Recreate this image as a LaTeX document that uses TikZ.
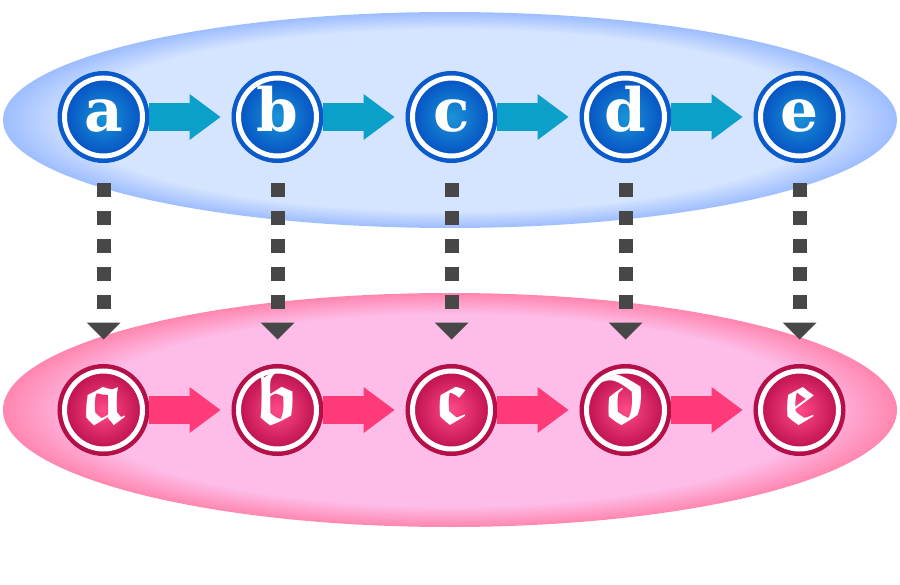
\documentclass[tikz,border=0pt]{standalone}
\usepackage{amsmath}
\usepackage{amssymb}
\usepackage{bm}
\usepackage{graphicx}
\usepackage{fontspec}
\usepackage{xcolor}
\usepackage{tikz}
\usetikzlibrary{arrows.meta}

\newfontfamily\letterfont{DejaVu Serif}
\newcommand{\frk}[1]{\scalebox{1.75}{$\bm{\mathfrak{#1}}$}}

\definecolor{lensblue}{HTML}{D5E4FF}
\definecolor{lensblueedge}{HTML}{9DBDFF}
\definecolor{lenspink}{HTML}{FDBDE8}
\definecolor{lenspinkedge}{HTML}{FF86AF}
\definecolor{topcore}{HTML}{1A94D6}
\definecolor{topedge}{HTML}{0652C4}
\definecolor{topring}{HTML}{0A5ACC}
\definecolor{botcore}{HTML}{FF4A86}
\definecolor{botedge}{HTML}{BE1150}
\definecolor{botring}{HTML}{B50F48}
\definecolor{arrowblue}{HTML}{0AA0CA}
\definecolor{arrowpink}{HTML}{FF3A78}
\definecolor{dashgray}{HTML}{474747}

\pgfdeclareradialshading{bluelens}{\pgfpoint{0bp}{0bp}}{color(0bp)=(lensblue); color(21bp)=(lensblue); color(25bp)=(lensblueedge); color(50bp)=(lensblueedge)}
\pgfdeclareradialshading{pinklens}{\pgfpoint{0bp}{0bp}}{color(0bp)=(lenspink); color(20.5bp)=(lenspink); color(25bp)=(lenspinkedge); color(50bp)=(lenspinkedge)}

\begin{document}
\begin{tikzpicture}[
        state/.style={circle,minimum size=1.56cm,inner sep=0pt,outer sep=0.13cm,
            draw=white,line width=0.1cm,text=white,shading=radial},
        topstate/.style={state,inner color=topcore,outer color=topedge,
            preaction={draw=topring,line width=0.28cm},
            text height=0.6cm,text depth=0pt,
            font=\letterfont\bfseries\fontsize{34}{34}\selectfont},
        botstate/.style={state,inner color=botcore,outer color=botedge,
            preaction={draw=botring,line width=0.28cm},
            text height=0.56cm,text depth=0pt,
            font=\fontsize{24.88}{30}\selectfont},
        flow/.style={line width=0.56cm,shorten >=0.23cm,
            -{Triangle[length=0.62cm,width=0.92cm,line width=0pt]}},
        link/.style={dashgray,line width=0.28cm,dash pattern=on 0.28cm off 0.28cm,
            shorten <=0.42cm,shorten >=0.5cm,
            -{Triangle[length=0.34cm,width=0.68cm,line width=0pt]}}]

        \useasboundingbox (0,0) rectangle (18,11.68);

        %ellipse
        \shade[shading=bluelens] (9,9.28) ellipse [x radius=8.94, y radius=2.16];
        \shade[shading=pinklens] (9,3.48) ellipse [x radius=8.94, y radius=2.34];

        %label state
        \node[topstate] (A) at (2.07,9.34) {a};
        \node[topstate] (B) at (5.55,9.34) {b};
        \node[topstate] (C) at (9.03,9.34) {c};
        \node[topstate] (D) at (12.51,9.34) {d};
        \node[topstate] (E) at (15.99,9.34) {e};

        \node[botstate] (A1) at (2.07,3.48) {\frk{a}};
        \node[botstate] (B1) at (5.55,3.48) {\frk{b}};
        \node[botstate] (C1) at (9.03,3.48) {\frk{c}};
        \node[botstate] (D1) at (12.51,3.48) {\frk{d}};
        \node[botstate] (E1) at (15.99,3.48) {\frk{e}};

        %horizontal arrow
        \draw [flow, arrowblue] (A) -- (B);
        \draw [flow, arrowblue] (B) -- (C);
        \draw [flow, arrowblue] (C) -- (D);
        \draw [flow, arrowblue] (D) -- (E);

        \draw [flow, arrowpink] (A1) -- (B1);
        \draw [flow, arrowpink] (B1) -- (C1);
        \draw [flow, arrowpink] (C1) -- (D1);
        \draw [flow, arrowpink] (D1) -- (E1);

        %vertical arrow
        \draw [link] (A) -- (A1);
        \draw [link] (B) -- (B1);
        \draw [link] (C) -- (C1);
        \draw [link] (D) -- (D1);
        \draw [link] (E) -- (E1);
        \end{tikzpicture}
\end{document}
